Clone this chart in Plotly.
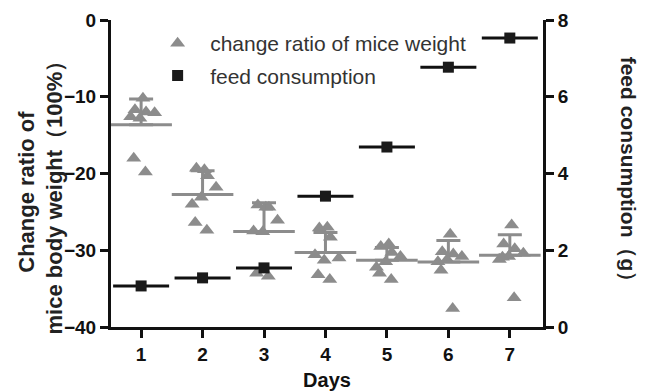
import numpy as np
import plotly.graph_objects as go

days = [1, 2, 3, 4, 5, 6, 7]
day_labels = ["1", "2", "3", "4", "5", "6", "7"]

weight_d1 = [-10.2, -11.7, -12.0, -12.1, -12.8, -12.6, -18.0, -19.8]
weight_d2 = [-19.5, -19.3, -20.3, -21.8, -23.1, -24.0, -26.4, -27.4]
weight_d3 = [-24.4, -24.1, -24.4, -26.1, -27.6, -27.5, -33.0, -33.4]
weight_d4 = [-27.0, -27.1, -28.3, -31.0, -31.3, -30.6, -33.2, -33.8]
weight_d5 = [-29.2, -29.5, -30.3, -30.8, -31.5, -32.2, -33.0, -33.8]
weight_d6 = [-27.9, -30.2, -30.5, -30.8, -31.2, -31.5, -32.6, -37.6]
weight_d7 = [-26.7, -29.2, -29.8, -30.4, -30.8, -31.2, -30.9, -36.2]
weights = [weight_d1, weight_d2, weight_d3, weight_d4, weight_d5, weight_d6, weight_d7]

feed = [1.07, 1.28, 1.54, 3.41, 4.69, 6.77, 7.53]

y_ticks = [0, -10, -20, -30, -40]
y2_ticks = [0, 2, 4, 6, 8]

# horizontal scatter layout for points within each day (style only)
JITTER = [0.03, -0.10, 0.08, 0.22, -0.02, -0.17, -0.12, 0.07]

GRAY = "#8c8c8c"
FONT = "Liberation Sans, Arial, sans-serif"

fig = go.Figure()

xs, ys = [], []
for d, w in zip(days, weights):
    for j, v in zip(JITTER, w):
        xs.append(d + j)
        ys.append(v)

fig.add_trace(go.Scatter(
    x=xs, y=ys, mode="markers", name="change ratio of mice weight",
    marker=dict(symbol="triangle-up", size=13, color=GRAY),
    legendgroup="a", yaxis="y"))

means = [float(np.mean(w)) for w in weights]
sds = [float(np.std(w, ddof=1)) for w in weights]

fig.add_trace(go.Scatter(
    x=days, y=means, mode="markers", showlegend=False,
    marker=dict(symbol="line-ew", size=44, line=dict(color=GRAY, width=3)),
    error_y=dict(type="data", symmetric=False, array=sds,
                 arrayminus=[0] * len(sds), color=GRAY, thickness=3, width=12),
    yaxis="y"))

fig.add_trace(go.Scatter(
    x=days, y=feed, mode="markers", showlegend=False,
    marker=dict(symbol="line-ew", size=40, line=dict(color="#111111", width=3)),
    yaxis="y2"))

fig.add_trace(go.Scatter(
    x=days, y=feed, mode="markers", name="feed consumption",
    marker=dict(symbol="square", size=11, color="#1a1a1a"),
    legendgroup="b", yaxis="y2"))

tickfont = dict(family=FONT, size=19, color="#111111", weight="bold")

fig.update_layout(
    width=646, height=391,
    margin=dict(l=111, r=103, t=20, b=64),
    paper_bgcolor="white", plot_bgcolor="white",
    font=dict(family=FONT),
    showlegend=True,
    legend=dict(x=0.079, y=0.99, xanchor="left", yanchor="top",
                bgcolor="rgba(0,0,0,0)", tracegroupgap=2, itemwidth=55,
                font=dict(family=FONT, size=21, color="#333333")),
    xaxis=dict(range=[0.51, 7.54], tickvals=days, ticktext=day_labels,
               automargin=False,
               showgrid=False, zeroline=False, showline=True,
               linecolor="#111111", linewidth=3, ticks="outside",
               ticklen=8, tickwidth=3, tickcolor="#111111",
               tickfont=tickfont,
               title=dict(text="<b>Days</b>", standoff=10,
                          font=dict(family=FONT, size=20, color="#111111"))),
    yaxis=dict(range=[-40, 0], tickvals=y_ticks, automargin=False,
               showgrid=False, zeroline=False, showline=True,
               linecolor="#111111", linewidth=3, ticks="outside",
               ticklen=8, tickwidth=3, tickcolor="#111111",
               tickfont=tickfont),
    yaxis2=dict(range=[0, 8], tickvals=y2_ticks, overlaying="y", side="right",
                automargin=False,
                showgrid=False, zeroline=False, showline=True,
                linecolor="#111111", linewidth=3, ticks="outside",
                ticklen=8, tickwidth=3, tickcolor="#111111",
                tickfont=tickfont),
)

fig.add_annotation(
    text="<b>Change ratio of<br>mice body weight（100%）</b>",
    xref="paper", yref="paper", x=-0.163, y=0.44, textangle=-90,
    showarrow=False, xanchor="center", yanchor="middle",
    font=dict(family=FONT, size=22, color="#222222"))

fig.add_annotation(
    text="<b>feed consumption（g）</b>",
    xref="paper", yref="paper", x=1.2, y=0.495, textangle=90,
    showarrow=False, xanchor="center", yanchor="middle",
    font=dict(family=FONT, size=21, color="#222222"))

fig.write_html("out.html")
